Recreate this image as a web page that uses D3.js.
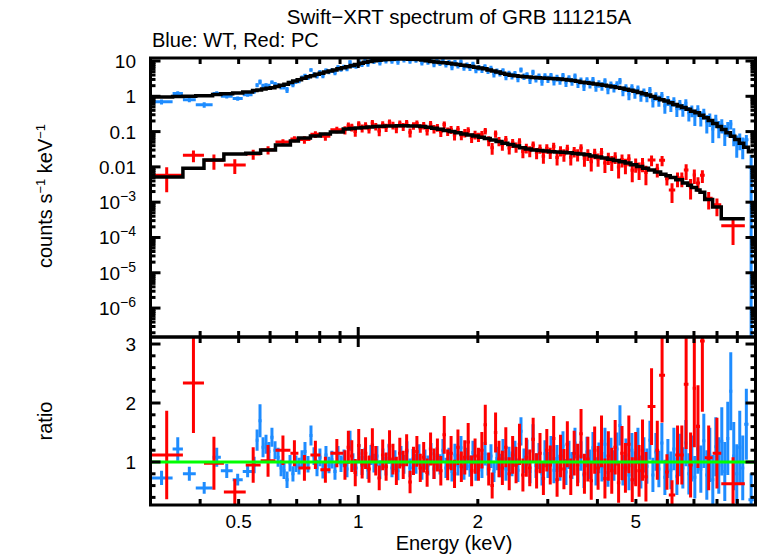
<!DOCTYPE html>
<html><head><meta charset="utf-8">
<script src="https://cdn.jsdelivr.net/npm/d3@7"></script>
<style>body{margin:0;background:#fff}svg{display:block}text{font-family:"Liberation Sans",Arial,Helvetica,sans-serif;fill:#000}</style>
</head><body><svg id="c" width="758" height="556"></svg>
<script>
const titleText = "Swift\u2212XRT spectrum of GRB 111215A";
const subtitleText = "Blue: WT, Red: PC";
const xLabel = "Energy (keV)";
const xTickValues = [0.5, 1, 2, 5];
const yDecadeExps = [1, 0, -1, -2, -3, -4, -5, -6];
const ratioTickValues = [1, 2, 3];

// WT model steps: [low edge keV, counts s^-1 keV^-1]
const blueModel = [
[0.300,0.96],[0.341,0.98],[0.362,1.00],[0.390,1.03],[0.430,1.12],[0.451,1.18],[0.483,1.24],[0.512,1.32],[0.542,1.45],[0.556,1.52],[0.571,1.60],[0.586,1.68],[0.601,1.76],[0.617,1.88],[0.633,2.05],[0.650,2.20],
[0.667,2.45],[0.684,2.70],[0.702,2.95],[0.720,3.25],[0.739,3.55],[0.758,3.85],[0.778,4.20],[0.798,4.50],[0.819,4.85],[0.840,5.20],[0.862,5.60],[0.884,6.00],[0.907,6.45],[0.930,6.90],[0.954,7.40],[0.979,8.00],
[1.004,8.60],[1.030,9.20],[1.057,9.70],[1.084,10.1],[1.112,10.5],[1.141,10.8],[1.171,11.1],[1.201,11.3],[1.232,11.4],[1.264,11.4],[1.297,11.4],[1.331,11.3],[1.365,11.2],[1.400,11.0],[1.437,10.6],[1.474,10.1],
[1.512,9.70],[1.551,9.40],[1.591,9.10],[1.632,8.90],[1.675,8.60],[1.718,8.20],[1.763,7.90],[1.809,7.60],[1.856,7.30],[1.904,7.00],[1.953,6.60],[2.004,6.30],[2.056,6.00],[2.109,5.60],[2.164,5.20],[2.220,4.90],
[2.278,4.50],[2.337,4.20],[2.398,3.95],[2.460,3.80],[2.524,3.70],[2.590,3.60],[2.657,3.50],[2.726,3.42],[2.797,3.35],[2.870,3.30],[2.944,3.26],[3.020,3.20],[3.099,3.15],[3.179,3.10],[3.262,3.00],[3.347,2.90],
[3.434,2.78],[3.523,2.65],[3.614,2.52],[3.708,2.42],[3.804,2.33],[3.903,2.24],[4.004,2.15],[4.108,2.05],[4.215,1.96],[4.325,1.87],[4.437,1.78],[4.552,1.68],[4.670,1.58],[4.791,1.48],[4.915,1.38],[5.043,1.28],
[5.174,1.18],[5.308,1.08],[5.446,0.98],[5.588,0.88],[5.733,0.80],[5.882,0.73],[6.035,0.66],[6.192,0.59],[6.353,0.53],[6.518,0.48],[6.687,0.43],[6.861,0.38],[7.039,0.34],[7.222,0.29],[7.410,0.245],[7.603,0.205],
[7.801,0.170],[8.004,0.140],[8.212,0.115],[8.425,0.092],[8.644,0.074],[8.869,0.060],[9.100,0.047],[9.340,0.036],[9.600,0.027]
];
const blueModelEnd = 9.9;
// WT data bins: [low edge keV, data/model ratio, ratio error]
const blueData = [
[0.300,0.73,0.12],[0.341,1.22,0.20],[0.362,0.80,0.12],[0.390,0.56,0.10],[0.430,1.08,0.16],[0.451,0.85,0.12],[0.483,0.70,0.10],[0.512,0.84,0.10],
[0.542,0.95,0.14],[0.552,1.37,0.18],[0.561,1.70,0.28],[0.571,1.25,0.17],[0.581,1.30,0.16],[0.591,1.18,0.16],[0.601,1.42,0.16],[0.612,1.20,0.15],
[0.623,1.08,0.16],[0.634,0.90,0.14],[0.645,0.85,0.14],[0.656,0.70,0.14],[0.668,0.98,0.14],[0.679,0.80,0.13],[0.691,0.97,0.14],[0.703,0.93,0.14],
[0.716,1.05,0.15],[0.728,1.18,0.16],[0.741,0.96,0.14],[0.754,1.45,0.17],[0.767,1.10,0.15],[0.781,0.90,0.14],[0.794,1.08,0.15],[0.808,0.86,0.14],
[0.822,1.12,0.15],[0.837,0.95,0.14],[0.851,1.04,0.15],[0.866,0.84,0.14],[0.882,1.12,0.15],[0.897,0.97,0.14],[0.913,1.06,0.15],[0.929,0.88,0.14],
[0.945,1.36,0.17],[0.962,1.00,0.15],[0.978,0.90,0.14],[0.996,1.14,0.16],
[1.013,0.94,0.16],[1.031,1.08,0.16],[1.049,0.86,0.15],[1.067,1.12,0.17],[1.086,0.98,0.16],[1.105,1.10,0.17],[1.124,0.87,0.16],[1.144,1.06,0.17],
[1.164,0.93,0.16],[1.185,1.14,0.17],[1.205,0.90,0.16],[1.227,1.03,0.17],[1.248,0.85,0.16],[1.270,1.10,0.17],[1.292,0.96,0.16],[1.315,1.17,0.18],
[1.338,0.90,0.16],[1.362,1.05,0.17],[1.385,0.97,0.17],[1.410,1.12,0.18],[1.434,0.86,0.16],[1.459,1.04,0.17],[1.485,0.94,0.17],[1.511,1.14,0.18],
[1.538,0.88,0.17],[1.565,1.07,0.18],[1.592,0.96,0.17],[1.620,1.20,0.19],[1.648,0.90,0.17],[1.677,1.06,0.18],[1.707,0.84,0.17],[1.737,1.12,0.19],
[1.767,0.95,0.18],[1.798,1.24,0.20],[1.830,0.88,0.18],[1.862,1.05,0.19],[1.894,0.93,0.18],[1.928,1.16,0.20],[1.961,0.86,0.18],[1.996,1.03,0.19],
[2.031,0.92,0.19],[2.066,1.14,0.20],[2.103,0.96,0.19],[2.140,1.10,0.20],[2.177,0.84,0.18],[2.215,1.06,0.20],[2.254,0.94,0.20],[2.294,1.18,0.21],
[2.334,0.88,0.20],[2.375,1.05,0.21],[2.417,0.97,0.21],[2.459,1.14,0.22],[2.502,0.86,0.20],[2.546,1.52,0.24],[2.591,1.02,0.21],[2.636,1.16,0.22],
[2.683,0.84,0.20],[2.730,1.40,0.24],[2.777,0.94,0.21],[2.826,1.10,0.22],[2.876,0.80,0.20],[2.926,1.14,0.23],[2.977,0.95,0.22],
[3.030,1.20,0.24],[3.083,0.86,0.22],[3.137,1.06,0.23],[3.192,0.90,0.22],[3.248,1.27,0.25],[3.305,0.83,0.22],[3.363,1.12,0.24],[3.422,0.94,0.23],
[3.482,1.32,0.26],[3.543,0.88,0.23],[3.605,1.10,0.25],[3.668,0.78,0.22],[3.733,1.17,0.26],[3.798,0.96,0.25],[3.865,1.24,0.27],[3.932,0.84,0.24],
[4.001,1.07,0.26],[4.071,0.92,0.25],[4.143,1.30,0.28],[4.215,0.82,0.24],[4.289,1.14,0.27],[4.364,0.94,0.26],[4.441,1.22,0.28],[4.519,1.62,0.34],
[4.598,0.86,0.26],[4.678,1.12,0.28],[4.760,0.78,0.26],[4.844,1.20,0.29],[4.929,0.90,0.28],
[5.015,1.27,0.31],[5.103,0.83,0.28],[5.192,1.12,0.30],[5.283,0.93,0.30],[5.376,1.37,0.33],[5.470,0.78,0.29],[5.566,1.17,0.32],[5.663,0.88,0.31],
[5.762,1.32,0.34],[5.863,0.74,0.30],[5.966,1.06,0.33],[6.070,0.86,0.32],[6.177,1.22,0.36],[6.285,0.76,0.32],[6.395,1.12,0.36],[6.507,0.90,0.35],
[6.621,1.32,0.39],[6.737,0.80,0.35],[6.855,1.06,0.39],[6.975,0.74,0.36],
[7.097,1.22,0.42],[7.221,0.88,0.40],[7.347,1.36,0.46],[7.476,0.78,0.42],[7.607,1.12,0.46],[7.740,0.70,0.42],[7.876,1.26,0.50],[8.014,0.94,0.48],
[8.154,1.35,0.58],[8.297,0.84,0.50],[8.442,1.40,0.62],[8.590,2.20,0.66],[8.740,1.10,0.58],[8.893,0.80,0.50],[9.049,1.25,0.62],[9.207,0.90,0.55],
[9.368,1.64,0.60],[9.600,0.36,0.45]
];
const blueDataEnd = 9.9;

// PC model steps: [low edge keV, counts s^-1 keV^-1]
const redModel = [
[0.300,0.0052],[0.362,0.0091],[0.409,0.0157],[0.459,0.0232],[0.521,0.0245],[0.568,0.030],[0.619,0.042],[0.675,0.054],[0.707,0.066],[0.758,0.075],[0.803,0.085],[0.851,0.098],
[0.917,0.118],[0.950,0.122],[0.983,0.126],[1.017,0.130],[1.052,0.135],[1.088,0.139],[1.126,0.142],[1.165,0.144],[1.205,0.145],[1.247,0.146],[1.290,0.146],[1.335,0.145],
[1.381,0.143],[1.429,0.140],[1.478,0.133],[1.529,0.125],[1.582,0.117],[1.637,0.108],[1.694,0.100],[1.752,0.093],[1.813,0.086],[1.876,0.080],[1.941,0.075],[2.008,0.069],
[2.077,0.064],[2.149,0.058],[2.223,0.052],[2.300,0.047],[2.380,0.043],[2.462,0.039],[2.547,0.035],[2.635,0.032],[2.726,0.030],[2.820,0.029],[2.918,0.028],[3.019,0.027],
[3.123,0.0265],[3.231,0.026],[3.343,0.025],[3.458,0.024],[3.578,0.023],[3.701,0.022],[3.829,0.0205],[3.962,0.019],[4.099,0.0178],[4.240,0.0165],[4.387,0.0152],[4.539,0.014],
[4.696,0.0128],[4.858,0.0115],[5.026,0.0103],[5.200,0.0092],[5.380,0.0081],[5.570,0.0072],[5.770,0.0062],[5.950,0.0056],[6.100,0.0050],[6.300,0.0043],[6.550,0.0035],[6.750,0.0030],
[6.900,0.0026],[7.100,0.0022],[7.250,0.0019],[7.450,0.0012],[7.800,0.00073],[8.200,0.00034]
];
const redModelEnd = 9.4;
// PC data bins: [low edge keV, data/model ratio, ratio error]
const redData = [
[0.300,1.12,0.75],[0.362,2.34,0.85],[0.409,0.98,0.45],[0.459,0.49,0.22],[0.521,0.95,0.30],[0.568,1.02,0.27],[0.619,1.20,0.25],[0.675,1.15,0.22],
[0.707,0.90,0.22],[0.758,1.12,0.24],[0.803,0.87,0.22],[0.851,1.15,0.24],
[0.917,0.95,0.25],[0.935,1.25,0.28],[0.954,1.10,0.27],[0.973,0.82,0.23],[0.993,1.28,0.28],[1.013,0.97,0.25],[1.033,1.15,0.27],[1.054,0.88,0.23],
[1.075,1.29,0.28],[1.096,1.02,0.25],[1.118,0.73,0.21],[1.141,1.12,0.26],[1.164,0.92,0.24],[1.187,1.27,0.27],[1.211,1.05,0.26],[1.235,0.85,0.24],
[1.260,1.15,0.26],[1.285,0.95,0.24],[1.311,1.20,0.27],[1.337,0.66,0.19],[1.364,1.02,0.24],[1.391,1.18,0.26],[1.419,0.90,0.24],[1.447,1.08,0.26],
[1.476,0.82,0.24],[1.506,1.22,0.28],[1.536,0.97,0.26],[1.567,1.12,0.28],[1.598,0.85,0.25],[1.630,1.46,0.32],[1.663,0.95,0.26],[1.696,1.15,0.29],
[1.730,0.80,0.24],[1.765,1.25,0.30],[1.800,0.92,0.26],[1.836,1.08,0.29],[1.873,1.34,0.32],[1.910,0.85,0.26],[1.949,1.10,0.30],[1.988,0.96,0.28],
[2.027,1.20,0.31],[2.068,1.63,0.34],[2.109,0.88,0.28],[2.152,0.60,0.22],[2.195,1.50,0.34],[2.239,1.05,0.31],[2.283,0.90,0.29],[2.329,1.25,0.34],
[2.376,0.80,0.28],[2.423,1.12,0.32],[2.472,0.95,0.31],[2.521,1.30,0.35],[2.572,0.78,0.28],[2.623,1.08,0.33],[2.676,0.90,0.31],[2.729,1.38,0.37],
[2.784,0.85,0.30],[2.840,1.15,0.34],[2.896,0.72,0.28],[2.954,1.20,0.36],[3.013,0.95,0.33],[3.074,1.40,0.38],[3.135,0.70,0.29],[3.198,1.10,0.36],
[3.262,0.88,0.34],[3.327,1.30,0.39],[3.394,0.75,0.31],[3.462,1.15,0.38],[3.531,0.95,0.36],[3.602,1.48,0.42],[3.674,0.80,0.34],[3.747,1.05,0.38],
[3.822,0.68,0.32],[3.898,1.20,0.40],[3.976,0.90,0.37],[4.056,1.35,0.44],[4.137,0.72,0.34],[4.220,1.10,0.42],[4.304,0.85,0.39],[4.390,1.25,0.46],
[4.478,0.65,0.34],[4.568,1.15,0.46],[4.659,0.90,0.42],[4.752,1.30,0.49],[4.847,0.70,0.38],[4.944,1.05,0.46],[5.043,0.85,0.44],[5.144,1.20,0.52],
[5.247,0.75,0.42],
[5.352,1.94,0.65],[5.600,1.20,0.50],[5.720,2.47,0.80],[5.920,0.83,0.30],[6.050,0.44,0.25],[6.280,1.12,0.50],[6.450,1.12,0.50],[6.600,2.32,1.10],
[6.780,0.95,0.55],[6.950,2.25,1.00],[7.080,1.60,0.70],[7.250,3.05,1.20],[7.450,1.07,0.55],[7.800,1.15,0.60],[8.200,0.63,0.45]
];
const redDataEnd = 9.4;

const svg = d3.select("#c");
const L = 150.5, R = 755.5, T1 = 58, B1 = 337, B2 = 505;
const yTopMin = Math.pow(10, -6.82), yTopMax = Math.pow(10, 1.085);
const x = d3.scaleLog().domain([0.3, 10]).range([L, R]);
const yTop = d3.scaleLog().domain([yTopMin, yTopMax]).range([B1, T1]);
const yRat = d3.scaleLinear().domain([0.271, 3.119]).range([B2, B1]);

function edges(rows, end) {
  return rows.map((b, i) => ({lo: b[0], hi: i < rows.length - 1 ? rows[i + 1][0] : end, row: b}));
}
function modelAt(model, e) {
  const i = Math.max(0, d3.bisectRight(model.map(m => m[0]), e) - 1);
  return model[i][1];
}
function buildData(rows, end, model) {
  return edges(rows, end).map(d => {
    const c = Math.sqrt(d.lo * d.hi);
    return {lo: d.lo, hi: d.hi, c, r: d.row[1], e: d.row[2], m: modelAt(model, c)};
  });
}
const blue = buildData(blueData, blueDataEnd, blueModel);
const red = buildData(redData, redDataEnd, redModel);
const BLUE = "#1e8cff", RED = "#ff0000";

const defs = svg.append("defs");
defs.append("clipPath").attr("id", "ct").append("rect").attr("x", L).attr("y", T1).attr("width", R - L).attr("height", B1 - T1);
defs.append("clipPath").attr("id", "cb").append("rect").attr("x", L).attr("y", B1).attr("width", R - L).attr("height", B2 - B1);
const gTop = svg.append("g").attr("clip-path", "url(#ct)");
const gBot = svg.append("g").attr("clip-path", "url(#cb)");

function drawErr(g, data, color, ys, val, err, floor) {
  const gg = g.append("g").attr("stroke", color).attr("stroke-width", 3);
  gg.selectAll(null).data(data).enter().append("line")
    .attr("x1", d => x(d.c)).attr("x2", d => x(d.c))
    .attr("y1", d => ys(val(d) + err(d)))
    .attr("y2", d => { const v = val(d) - err(d); return v > floor ? ys(v) : ys.range()[0] + 5; });
  gg.selectAll(null).data(data).enter().append("line")
    .attr("x1", d => x(d.lo)).attr("x2", d => x(d.hi))
    .attr("y1", d => ys(val(d))).attr("y2", d => ys(val(d)));
}
drawErr(gTop, blue, BLUE, yTop, d => d.r * d.m, d => d.e * d.m, yTopMin);
drawErr(gTop, red, RED, yTop, d => d.r * d.m, d => d.e * d.m, yTopMin);
const step = d3.line().x(d => x(d[0])).y(d => yTop(d[1])).curve(d3.curveStepAfter);
[[blueModel, blueModelEnd], [redModel, redModelEnd]].forEach(([mod, end]) => {
  const pts = mod.map(d => [d[0], d[1]]); pts.push([end, mod[mod.length - 1][1]]);
  gTop.append("path").attr("d", step(pts)).attr("fill", "none").attr("stroke", "#000").attr("stroke-width", 3.5);
});
drawErr(gBot, blue, BLUE, yRat, d => d.r, d => d.e, 0.271);
drawErr(gBot, red, RED, yRat, d => d.r, d => d.e, 0.271);
gBot.append("line").attr("x1", L).attr("x2", R).attr("y1", yRat(1)).attr("y2", yRat(1)).attr("stroke", "#00ff00").attr("stroke-width", 3);

const axg = svg.append("g").attr("stroke", "#000").attr("stroke-width", 3).attr("fill", "none");
axg.append("rect").attr("x", L).attr("y", T1).attr("width", R - L).attr("height", B1 - T1);
axg.append("rect").attr("x", L).attr("y", B1).attr("width", R - L).attr("height", B2 - B1);

const xMinor = [0.4,0.5,0.6,0.7,0.8,0.9,2,3,4,5,6,7,8,9];
const xMajor = [1];
function xt(vals, len) {
  vals.forEach(v => {
    const px = x(v);
    [[T1, 1], [B1, -1], [B1, 1], [B2, -1]].forEach(([y0, dir]) => {
      axg.append("line").attr("x1", px).attr("x2", px).attr("y1", y0).attr("y2", y0 + dir * len);
    });
  });
}
xt(xMinor, 6); xt(xMajor, 10);
for (let e = -7; e <= 1; e++) {
  for (let k = 1; k <= 9; k++) {
    const v = k * Math.pow(10, e);
    if (v < yTopMin || v > yTopMax) continue;
    const py = yTop(v), len = k === 1 ? 10 : 5;
    axg.append("line").attr("x1", L).attr("x2", L + len).attr("y1", py).attr("y2", py);
    axg.append("line").attr("x1", R).attr("x2", R - len).attr("y1", py).attr("y2", py);
  }
}
for (let i = 2; i <= 15; i++) {
  const py = yRat(i * 0.2), len = (i % 5 === 0) ? 10 : 5;
  axg.append("line").attr("x1", L).attr("x2", L + len).attr("y1", py).attr("y2", py);
  axg.append("line").attr("x1", R).attr("x2", R - len).attr("y1", py).attr("y2", py);
}

const fs = 19;
xTickValues.forEach(v => {
  svg.append("text").attr("x", x(v)).attr("y", 528).attr("text-anchor", "middle").attr("font-size", fs).text(String(v));
});
yDecadeExps.forEach(e => {
  const t = svg.append("text").attr("x", 136).attr("y", yTop(Math.pow(10, e)) + 7).attr("text-anchor", "end").attr("font-size", fs);
  if (e >= -2) t.text(String(+Math.pow(10, e).toFixed(2)));
  else { t.append("tspan").text("10"); t.append("tspan").attr("dy", -8).attr("font-size", 14).text("\u2212" + (-e)); }
});
ratioTickValues.forEach(v => {
  svg.append("text").attr("x", 136).attr("y", yRat(v) + 7).attr("text-anchor", "end").attr("font-size", fs).text(String(v));
});
svg.append("text").attr("x", 459).attr("y", 24).attr("text-anchor", "middle").attr("font-size", 20.5).text(titleText);
svg.append("text").attr("x", 152).attr("y", 47).attr("font-size", 20).text(subtitleText);
svg.append("text").attr("x", 454).attr("y", 550).attr("text-anchor", "middle").attr("font-size", 20).text(xLabel);
const yl = svg.append("text").attr("transform", "translate(52,196) rotate(-90)").attr("text-anchor", "middle").attr("font-size", 20);
yl.append("tspan").text("counts s");
yl.append("tspan").attr("dy", -7).attr("font-size", 13).text("\u22121");
yl.append("tspan").attr("dy", 7).text(" keV");
yl.append("tspan").attr("dy", -7).attr("font-size", 13).text("\u22121");
svg.append("text").attr("transform", "translate(52,421) rotate(-90)").attr("text-anchor", "middle").attr("font-size", 20).text("ratio");
</script></body></html>
